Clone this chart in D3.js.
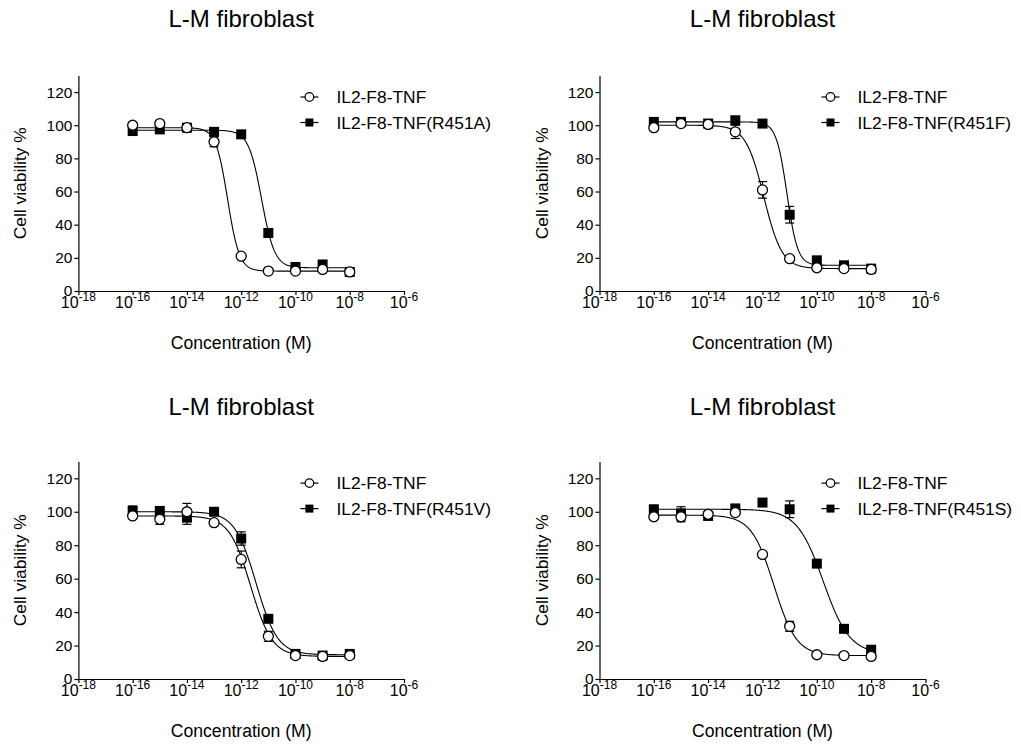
<!DOCTYPE html>
<html>
<head>
<meta charset="utf-8">
<script src="https://cdn.jsdelivr.net/npm/d3@7"></script>
<style>
  html, body { margin: 0; padding: 0; background: #fff; }
  svg { display: block; }
  text { font-family: Arial, "Liberation Sans", sans-serif; fill: #000; }
</style>
</head>
<body>
<svg id="chart" width="1021" height="746"></svg>
<script>
// ---------------- DATA ----------------
const concentrations = [1e-16, 1e-15, 1e-14, 1e-13, 1e-12, 1e-11, 1e-10, 1e-9, 1e-8];
const xTickValues = [1e-18, 1e-16, 1e-14, 1e-12, 1e-10, 1e-8, 1e-6];
const xTickExponents = ["-18", "-16", "-14", "-12", "-10", "-8", "-6"];
const yTickValues = [0, 20, 40, 60, 80, 100, 120];

const panelTitles = ["L-M fibroblast", "L-M fibroblast", "L-M fibroblast", "L-M fibroblast"];
const referenceLabel = "IL2-F8-TNF";
const mutantLabels = ["IL2-F8-TNF(R451A)", "IL2-F8-TNF(R451F)", "IL2-F8-TNF(R451V)", "IL2-F8-TNF(R451S)"];
const xAxisTitle = "Concentration (M)";
const yAxisTitle = "Cell viability %";

// Panel A (R451A)
const A_ref = [100, 101, 98.5, 90, 21, 12, 12, 13, 11.5];
const A_refErr = [1, 1, 1, 3, 1.5, 1, 1, 1, 1];
const A_mut = [96.5, 97.5, 98.5, 96, 94.5, 35, 14.5, 16, 11.5];
const A_mutErr = [1, 1, 1, 2, 1, 2, 1.5, 1.5, 1];
// fitted curve parameters: [top, bottom, logEC50, hill slope]
const A_refFit = [98.5, 12, -12.5, 2.0];
const A_mutFit = [97, 14, -11.25, 1.8];

// Panel B (R451F)
const B_ref = [98.5, 101, 100.5, 96, 61, 19.5, 14, 13.5, 13];
const B_refErr = [1, 1, 1, 4, 5, 1.5, 1, 1, 1];
const B_mut = [102, 102, 101, 103, 101, 46, 18.5, 15.5, 13.5];
const B_mutErr = [1, 1, 1, 2, 1, 5, 2, 1, 1];
const B_refFit = [100, 13.5, -11.95, 1.3];
const B_mutFit = [102, 15.5, -11.1, 2.2];

// Panel C (R451V)
const C_ref = [97.5, 95.5, 100, 93.5, 71.5, 25.5, 14, 13.5, 14];
const C_refErr = [1.5, 3, 5, 1, 5, 3, 1, 1, 1];
const C_mut = [100.5, 100.5, 96.5, 100, 84, 36, 15, 14, 15];
const C_mutErr = [3, 1, 4, 1, 4, 2, 1, 1, 1];
const C_refFit = [97.5, 13.5, -11.65, 1.1];
const C_mutFit = [100, 14.5, -11.45, 1.1];

// Panel D (R451S)
const D_ref = [97, 97, 98.5, 99.5, 74.5, 31.5, 14.5, 14, 13.5];
const D_refErr = [1, 3, 1, 1, 1.5, 3, 1, 1, 1];
const D_mut = [101.5, 99, 97.5, 102, 105.5, 101.5, 69, 30, 17.5];
const D_mutErr = [1, 4, 1, 1, 1, 5, 1.5, 1.5, 1];
const D_refFit = [98, 14, -11.58, 1.05];
const D_mutFit = [101.5, 15, -9.76, 0.9];

// ---------------- LAYOUT ----------------
const layouts = [
  { x0: 78.4, x1: 404, yBase: 291, yTop: 75.5 },
  { x0: 599.5, x1: 925.5, yBase: 291, yTop: 75.5 },
  { x0: 78.4, x1: 404, yBase: 679, yTop: 461.6 },
  { x0: 599.5, x1: 925.5, yBase: 679, yTop: 461.6 }
];

const panels = [
  { ref: A_ref, refErr: A_refErr, mut: A_mut, mutErr: A_mutErr, refFit: A_refFit, mutFit: A_mutFit },
  { ref: B_ref, refErr: B_refErr, mut: B_mut, mutErr: B_mutErr, refFit: B_refFit, mutFit: B_mutFit },
  { ref: C_ref, refErr: C_refErr, mut: C_mut, mutErr: C_mutErr, refFit: C_refFit, mutFit: C_mutFit },
  { ref: D_ref, refErr: D_refErr, mut: D_mut, mutErr: D_mutErr, refFit: D_refFit, mutFit: D_mutFit }
];

const FONT = "Arial, 'Liberation Sans', sans-serif";
const svg = d3.select("#chart");
svg.append("rect").attr("width", 1021).attr("height", 746).attr("fill", "#fff");

function logistic(fit, logx) {
  const [top, bottom, ec, h] = fit;
  return bottom + (top - bottom) / (1 + Math.pow(10, (logx - ec) * h));
}

panels.forEach((p, i) => {
  const L = layouts[i];
  const x = d3.scaleLog().domain([1e-18, 1e-6]).range([L.x0, L.x1]);
  const y = d3.scaleLinear().domain([0, 130]).range([L.yBase, L.yTop]);
  const g = svg.append("g");

  // title
  g.append("text")
    .attr("x", (L.x0 + L.x1) / 2)
    .attr("y", L.yBase - 264)
    .attr("text-anchor", "middle")
    .attr("font-size", 24)
    .text(panelTitles[i]);

  // y axis
  const yAxis = d3.axisLeft(y).tickValues(yTickValues).tickSize(4).tickSizeOuter(0).tickPadding(2);
  const gy = g.append("g").attr("transform", `translate(${L.x0},0)`).call(yAxis);
  gy.attr("font-size", 15.5).attr("font-family", FONT);
  gy.select(".domain").attr("stroke", "#000").attr("stroke-width", 1.2);
  gy.selectAll(".tick line").attr("stroke", "#000").attr("stroke-width", 1.2);
  gy.selectAll(".tick text").attr("font-size", 15.5).attr("fill", "#000");

  // x axis (ticks via axis, labels with superscript exponents)
  const xAxis = d3.axisBottom(x).tickValues(xTickValues).tickSize(4).tickSizeOuter(0).tickFormat(() => "");
  const gx = g.append("g").attr("transform", `translate(0,${L.yBase})`).call(xAxis);
  gx.select(".domain").attr("stroke", "#000").attr("stroke-width", 1.2);
  gx.selectAll(".tick line").attr("stroke", "#000").attr("stroke-width", 1.2);
  gx.selectAll(".tick text").remove();
  const xl = g.append("g");
  xTickValues.forEach((v, k) => {
    const t = xl.append("text")
      .attr("x", x(v))
      .attr("y", L.yBase + 16.5)
      .attr("text-anchor", "middle")
      .style("font-family", FONT);
    t.append("tspan").style("font-size", "16px").text("10");
    t.append("tspan").style("font-size", "12px").attr("dy", -6.5).text(xTickExponents[k]);
  });

  // axis titles
  g.append("text")
    .attr("x", (L.x0 + L.x1) / 2)
    .attr("y", L.yBase + 58)
    .attr("text-anchor", "middle")
    .attr("font-size", 17.6)
    .text(xAxisTitle);
  const yMid = (y(0) + y(130)) / 2;
  g.append("text")
    .attr("transform", `translate(${L.x0 - 52},${yMid}) rotate(-90)`)
    .attr("text-anchor", "middle")
    .attr("font-size", 17.4)
    .text(yAxisTitle);

  // curves
  const lx0 = Math.log10(concentrations[0]);
  const lx1 = Math.log10(concentrations[concentrations.length - 1]);
  const samples = d3.range(0, 401).map(k => lx0 + (lx1 - lx0) * k / 400);
  const line = d3.line().x(d => x(Math.pow(10, d[0]))).y(d => y(d[1]));
  [p.mutFit, p.refFit].forEach(fit => {
    g.append("path")
      .attr("d", line(samples.map(s => [s, logistic(fit, s)])))
      .attr("fill", "none").attr("stroke", "#000").attr("stroke-width", 1.1);
  });

  // error bars
  function errorBars(vals, errs) {
    const eg = g.append("g").attr("stroke", "#000").attr("stroke-width", 1.2);
    vals.forEach((v, k) => {
      const cx = x(concentrations[k]);
      const e = errs[k];
      eg.append("line").attr("x1", cx).attr("x2", cx).attr("y1", y(v - e)).attr("y2", y(v + e));
      eg.append("line").attr("x1", cx - 4.5).attr("x2", cx + 4.5).attr("y1", y(v - e)).attr("y2", y(v - e));
      eg.append("line").attr("x1", cx - 4.5).attr("x2", cx + 4.5).attr("y1", y(v + e)).attr("y2", y(v + e));
    });
  }
  errorBars(p.mut, p.mutErr);
  errorBars(p.ref, p.refErr);

  // markers: mutant squares (filled), reference circles (open) on top
  g.append("g").selectAll("rect").data(p.mut).join("rect")
    .attr("x", (d, k) => x(concentrations[k]) - 5)
    .attr("y", d => y(d) - 5)
    .attr("width", 10).attr("height", 10)
    .attr("fill", "#000");
  g.append("g").selectAll("circle").data(p.ref).join("circle")
    .attr("cx", (d, k) => x(concentrations[k]))
    .attr("cy", d => y(d))
    .attr("r", 5)
    .attr("fill", "#fff").attr("stroke", "#000").attr("stroke-width", 1.3);

  // legend
  const lx = L.x0 + 222;
  const ly1 = L.yTop + 21.5;
  const ly2 = ly1 + 25.5;
  const lg = g.append("g");
  lg.append("line").attr("x1", lx).attr("x2", lx + 18).attr("y1", ly1).attr("y2", ly1).attr("stroke", "#000").attr("stroke-width", 1.2);
  lg.append("circle").attr("cx", lx + 9).attr("cy", ly1).attr("r", 4.3).attr("fill", "#fff").attr("stroke", "#000").attr("stroke-width", 1.2);
  lg.append("text").attr("x", lx + 36).attr("y", ly1).attr("dy", "0.35em").attr("font-size", 17.4).text(referenceLabel);
  lg.append("line").attr("x1", lx).attr("x2", lx + 18).attr("y1", ly2).attr("y2", ly2).attr("stroke", "#000").attr("stroke-width", 1.2);
  lg.append("rect").attr("x", lx + 5).attr("y", ly2 - 4).attr("width", 8).attr("height", 8).attr("fill", "#000");
  lg.append("text").attr("x", lx + 36).attr("y", ly2).attr("dy", "0.35em").attr("font-size", 17.4).text(mutantLabels[i]);
});
</script>
</body>
</html>
